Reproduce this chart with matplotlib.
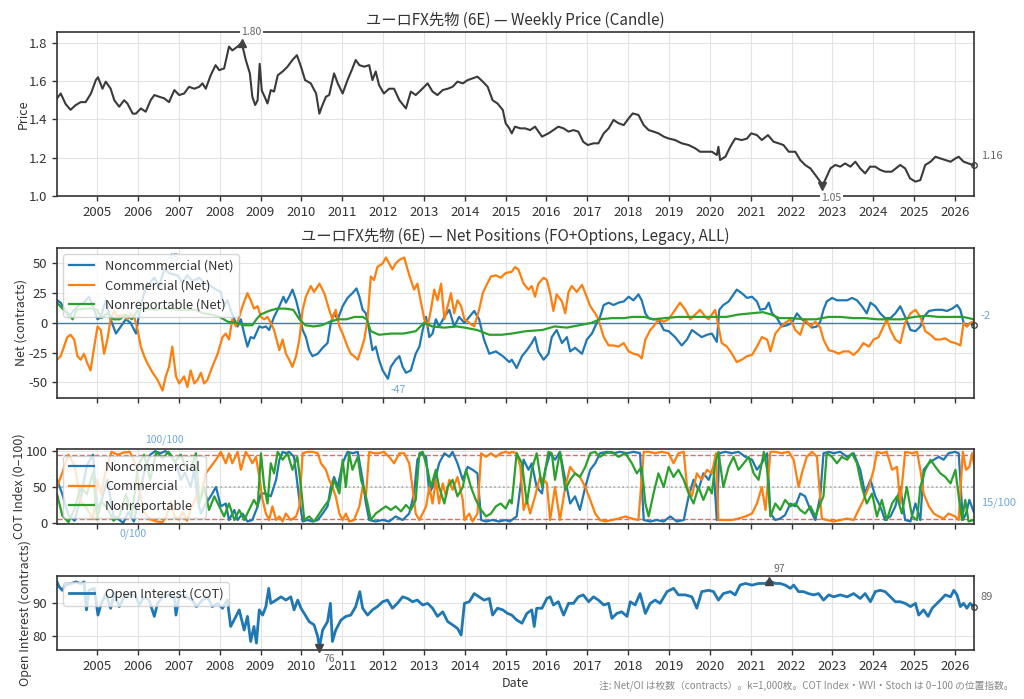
import numpy as np
import pandas as pd
import matplotlib
matplotlib.use("Agg")
import matplotlib.pyplot as plt
import matplotlib.dates as mdates

plt.rcParams['font.family'] = ['Noto Sans CJK JP', 'DejaVu Sans']
plt.rcParams['axes.unicode_minus'] = False

# ---------------- data (decimal year, value) ----------------
price = [(2004.02,1.51),(2004.11,1.535),(2004.23,1.48),(2004.35,1.45),(2004.48,1.475),(2004.6,1.49),(2004.72,1.49),(2004.85,1.535),(2004.97,1.605),(2005.02,1.62),(2005.13,1.56),(2005.21,1.597),(2005.33,1.56),(2005.42,1.50),(2005.54,1.466),(2005.66,1.50),(2005.74,1.483),(2005.87,1.43),(2005.95,1.43),(2006.07,1.457),(2006.19,1.44),(2006.31,1.50),(2006.4,1.527),(2006.52,1.518),(2006.64,1.51),(2006.76,1.49),(2006.89,1.553),(2007.01,1.527),(2007.13,1.535),(2007.25,1.57),(2007.38,1.56),(2007.5,1.57),(2007.58,1.588),(2007.66,1.56),(2007.78,1.63),(2007.9,1.683),(2007.99,1.657),(2008.11,1.666),(2008.23,1.78),(2008.31,1.76),(2008.44,1.78),(2008.54,1.80),(2008.64,1.71),(2008.74,1.64),(2008.8,1.518),(2008.87,1.475),(2008.93,1.50),(2008.98,1.69),(2009.03,1.55),(2009.1,1.518),(2009.17,1.483),(2009.25,1.553),(2009.33,1.545),(2009.42,1.63),(2009.54,1.65),(2009.66,1.675),(2009.78,1.71),(2009.89,1.735),(2009.99,1.675),(2010.09,1.605),(2010.23,1.588),(2010.36,1.535),(2010.44,1.43),(2010.5,1.466),(2010.6,1.518),(2010.68,1.527),(2010.8,1.64),(2010.89,1.588),(2011.01,1.535),(2011.13,1.605),(2011.25,1.666),(2011.33,1.71),(2011.42,1.683),(2011.54,1.675),(2011.66,1.683),(2011.74,1.605),(2011.82,1.65),(2011.9,1.58),(2012.02,1.535),(2012.15,1.56),(2012.27,1.56),(2012.4,1.50),(2012.56,1.457),(2012.68,1.545),(2012.8,1.527),(2012.93,1.553),(2013.09,1.588),(2013.21,1.545),(2013.33,1.527),(2013.46,1.553),(2013.58,1.56),(2013.7,1.57),(2013.82,1.597),(2013.95,1.588),(2014.07,1.605),(2014.19,1.614),(2014.31,1.623),(2014.44,1.597),(2014.56,1.57),(2014.68,1.50),(2014.8,1.483),(2014.93,1.449),(2015.0,1.38),(2015.09,1.353),(2015.15,1.327),(2015.23,1.362),(2015.36,1.353),(2015.48,1.353),(2015.6,1.344),(2015.72,1.362),(2015.89,1.31),(2016.05,1.327),(2016.17,1.344),(2016.29,1.362),(2016.42,1.353),(2016.54,1.336),(2016.66,1.344),(2016.78,1.336),(2016.9,1.283),(2017.01,1.266),(2017.15,1.275),(2017.27,1.275),(2017.4,1.327),(2017.52,1.353),(2017.64,1.397),(2017.76,1.38),(2017.89,1.37),(2018.01,1.405),(2018.11,1.431),(2018.25,1.423),(2018.38,1.37),(2018.5,1.344),(2018.62,1.336),(2018.74,1.327),(2018.87,1.31),(2018.99,1.30),(2019.15,1.292),(2019.31,1.275),(2019.48,1.266),(2019.64,1.249),(2019.76,1.231),(2019.89,1.231),(2020.05,1.231),(2020.17,1.214),(2020.21,1.257),(2020.25,1.188),(2020.38,1.205),(2020.5,1.257),(2020.62,1.30),(2020.78,1.292),(2020.91,1.30),(2021.01,1.327),(2021.15,1.318),(2021.27,1.292),(2021.42,1.318),(2021.56,1.283),(2021.68,1.275),(2021.8,1.266),(2021.93,1.231),(2022.09,1.231),(2022.21,1.188),(2022.33,1.162),(2022.46,1.144),(2022.58,1.11),(2022.7,1.075),(2022.74,1.05),(2022.82,1.083),(2022.95,1.144),(2023.07,1.162),(2023.19,1.153),(2023.31,1.17),(2023.44,1.153),(2023.56,1.179),(2023.68,1.144),(2023.8,1.118),(2023.92,1.153),(2024.05,1.153),(2024.17,1.136),(2024.29,1.127),(2024.45,1.127),(2024.66,1.162),(2024.78,1.144),(2024.9,1.092),(2025.03,1.075),(2025.15,1.083),(2025.27,1.162),(2025.4,1.179),(2025.52,1.205),(2025.64,1.196),(2025.76,1.188),(2025.89,1.179),(2026.01,1.196),(2026.09,1.205),(2026.21,1.179),(2026.33,1.17),(2026.46,1.16)]

net_noncomm = [(2004.02,19),(2004.11,17),(2004.19,12),(2004.31,5),(2004.44,11),(2004.56,15),(2004.68,17),(2004.8,22),(2004.93,11),(2005.01,3),(2005.09,5),(2005.21,19),(2005.33,3),(2005.46,-9),(2005.58,-3),(2005.7,3),(2005.82,0),(2005.95,-9),(2006.03,8),(2006.15,25),(2006.27,33),(2006.4,38),(2006.52,31),(2006.64,45),(2006.76,42),(2006.84,41),(2006.97,40),(2007.09,34),(2007.21,40),(2007.33,35),(2007.5,38),(2007.62,34),(2007.74,32),(2007.91,28),(2008.03,26),(2008.11,14),(2008.19,19),(2008.27,11),(2008.36,3),(2008.44,-3),(2008.52,3),(2008.6,-9),(2008.68,-20),(2008.76,-12),(2008.84,-13),(2008.97,-3),(2009.05,-4),(2009.13,-3),(2009.21,-6),(2009.33,5),(2009.46,14),(2009.56,22),(2009.62,17),(2009.7,22),(2009.78,28),(2009.87,19),(2009.95,8),(2010.03,-6),(2010.11,-12),(2010.19,-23),(2010.27,-28),(2010.4,-26),(2010.52,-21),(2010.64,-17),(2010.72,0),(2010.8,8),(2010.89,3),(2011.01,14),(2011.13,21),(2011.25,25),(2011.35,29),(2011.42,22),(2011.5,11),(2011.58,8),(2011.66,-6),(2011.74,-23),(2011.82,-20),(2011.9,-31),(2011.99,-40),(2012.12,-47),(2012.19,-37),(2012.31,-31),(2012.4,-28),(2012.48,-37),(2012.56,-42),(2012.68,-40),(2012.8,-26),(2012.89,-20),(2012.97,-6),(2013.05,5),(2013.13,-12),(2013.21,-9),(2013.29,3),(2013.37,-3),(2013.5,5),(2013.62,11),(2013.74,-3),(2013.86,5),(2013.99,0),(2014.11,5),(2014.23,10),(2014.35,3),(2014.47,-14),(2014.6,-26),(2014.76,-24),(2014.93,-28),(2015.09,-33),(2015.15,-31),(2015.27,-38),(2015.4,-28),(2015.52,-23),(2015.64,-17),(2015.72,-12),(2015.8,-24),(2015.93,-31),(2016.05,-26),(2016.13,-12),(2016.25,-6),(2016.38,-17),(2016.5,-12),(2016.58,-24),(2016.7,-21),(2016.87,-26),(2016.99,-14),(2017.11,-9),(2017.23,0),(2017.31,5),(2017.4,15),(2017.52,17),(2017.64,15),(2017.76,17),(2017.89,18),(2018.01,22),(2018.13,19),(2018.25,24),(2018.33,19),(2018.42,8),(2018.5,4),(2018.62,3),(2018.74,3),(2018.87,-6),(2018.99,-7),(2019.15,-12),(2019.31,-19),(2019.44,-14),(2019.56,-6),(2019.68,-9),(2019.8,-12),(2019.93,-10),(2020.05,-9),(2020.17,-16),(2020.23,11),(2020.33,15),(2020.46,18),(2020.58,24),(2020.66,28),(2020.78,25),(2020.91,21),(2021.03,22),(2021.15,18),(2021.23,11),(2021.36,12),(2021.44,17),(2021.52,8),(2021.64,4),(2021.76,-3),(2021.89,-2),(2022.01,0),(2022.13,8),(2022.25,3),(2022.37,0),(2022.5,-4),(2022.62,-3),(2022.7,1),(2022.78,11),(2022.86,18),(2022.99,21),(2023.11,19),(2023.23,19),(2023.36,19),(2023.48,21),(2023.6,19),(2023.72,14),(2023.84,8),(2023.93,17),(2024.05,14),(2024.17,8),(2024.29,4),(2024.42,4),(2024.54,8),(2024.66,14),(2024.78,5),(2024.91,-6),(2025.03,-7),(2025.15,-3),(2025.23,5),(2025.36,10),(2025.52,11),(2025.68,11),(2025.8,10),(2025.93,12),(2026.05,15),(2026.13,11),(2026.21,0),(2026.29,-3),(2026.37,0),(2026.46,-2)]

net_comm = [(2004.02,-31),(2004.11,-28),(2004.19,-20),(2004.27,-12),(2004.35,-10),(2004.44,-14),(2004.52,-28),(2004.6,-31),(2004.68,-26),(2004.76,-34),(2004.84,-40),(2004.93,-20),(2005.01,-3),(2005.09,-6),(2005.17,-26),(2005.25,-14),(2005.33,3),(2005.42,10),(2005.5,5),(2005.62,7),(2005.74,3),(2005.82,8),(2005.91,5),(2005.99,-6),(2006.07,-20),(2006.15,-28),(2006.23,-34),(2006.36,-42),(2006.48,-48),(2006.6,-57),(2006.68,-45),(2006.76,-37),(2006.84,-20),(2006.93,-45),(2007.01,-51),(2007.13,-45),(2007.21,-54),(2007.29,-40),(2007.38,-51),(2007.46,-48),(2007.54,-42),(2007.62,-51),(2007.7,-48),(2007.82,-37),(2007.95,-26),(2008.07,-12),(2008.15,-9),(2008.23,-14),(2008.31,3),(2008.4,-3),(2008.48,5),(2008.56,14),(2008.68,25),(2008.76,19),(2008.84,12),(2008.93,14),(2009.01,5),(2009.09,3),(2009.17,5),(2009.25,0),(2009.33,-6),(2009.46,-23),(2009.54,-14),(2009.62,-26),(2009.7,-31),(2009.78,-37),(2009.87,-28),(2009.95,-14),(2010.03,11),(2010.11,22),(2010.23,31),(2010.31,26),(2010.44,33),(2010.56,25),(2010.68,11),(2010.76,3),(2010.84,11),(2010.93,-3),(2011.01,-9),(2011.13,-20),(2011.21,-26),(2011.29,-28),(2011.38,-31),(2011.46,-23),(2011.54,-14),(2011.62,3),(2011.7,39),(2011.78,36),(2011.86,47),(2011.99,50),(2012.07,55),(2012.15,50),(2012.23,45),(2012.31,50),(2012.4,53),(2012.52,55),(2012.6,45),(2012.68,36),(2012.76,28),(2012.84,33),(2012.93,17),(2013.01,3),(2013.09,-3),(2013.17,11),(2013.25,28),(2013.33,19),(2013.42,33),(2013.5,3),(2013.58,14),(2013.66,25),(2013.74,8),(2013.82,19),(2013.91,14),(2013.99,3),(2014.11,0),(2014.23,-3),(2014.35,11),(2014.44,25),(2014.52,31),(2014.64,39),(2014.76,40),(2014.88,38),(2015.0,42),(2015.15,43),(2015.23,47),(2015.31,45),(2015.44,33),(2015.56,28),(2015.64,31),(2015.72,22),(2015.8,33),(2015.93,38),(2016.01,36),(2016.09,25),(2016.17,10),(2016.25,24),(2016.38,18),(2016.46,8),(2016.54,26),(2016.62,31),(2016.74,26),(2016.87,32),(2016.95,25),(2017.07,14),(2017.19,8),(2017.27,3),(2017.4,-12),(2017.52,-19),(2017.64,-19),(2017.76,-20),(2017.89,-17),(2018.01,-24),(2018.13,-26),(2018.25,-27),(2018.33,-30),(2018.42,-14),(2018.54,-6),(2018.62,-3),(2018.74,3),(2018.87,1),(2018.99,3),(2019.15,11),(2019.27,17),(2019.4,11),(2019.52,3),(2019.64,7),(2019.76,11),(2019.89,5),(2019.97,3),(2020.13,11),(2020.21,-3),(2020.29,-17),(2020.42,-20),(2020.54,-26),(2020.66,-33),(2020.78,-31),(2020.91,-28),(2021.03,-27),(2021.15,-20),(2021.27,-12),(2021.4,-14),(2021.48,-24),(2021.6,-9),(2021.72,-4),(2021.84,0),(2021.97,3),(2022.09,-6),(2022.21,-10),(2022.33,3),(2022.46,-3),(2022.58,1),(2022.7,-4),(2022.78,-14),(2022.91,-23),(2023.03,-24),(2023.15,-26),(2023.27,-24),(2023.4,-24),(2023.52,-27),(2023.64,-23),(2023.76,-17),(2023.89,-20),(2024.01,-14),(2024.13,-12),(2024.25,-3),(2024.33,3),(2024.42,-6),(2024.54,-14),(2024.66,-17),(2024.78,0),(2024.91,8),(2025.03,11),(2025.15,5),(2025.27,-7),(2025.4,-10),(2025.52,-14),(2025.64,-14),(2025.76,-13),(2025.89,-16),(2026.01,-17),(2026.13,-19),(2026.21,0),(2026.29,-3),(2026.37,0),(2026.46,1)]

net_nonrep = [(2004.02,17),(2004.15,12),(2004.3,8),(2004.4,3),(2004.5,11),(2004.7,12),(2004.9,12),(2005.0,11),(2005.1,4),(2005.25,8),(2005.4,3),(2005.55,3),(2005.7,7),(2005.85,3),(2006.0,11),(2006.2,12),(2006.4,11),(2006.6,12),(2006.8,12),(2007.0,11),(2007.2,11),(2007.4,11),(2007.6,8),(2007.8,7),(2008.0,5),(2008.2,1),(2008.4,0),(2008.6,-2),(2008.8,-2),(2008.9,3),(2009.0,7),(2009.2,10),(2009.4,12),(2009.6,12),(2009.8,11),(2009.95,3),(2010.1,-2),(2010.3,-3),(2010.5,-2),(2010.7,1),(2010.9,3),(2011.1,3),(2011.3,5),(2011.5,5),(2011.6,3),(2011.7,-7),(2011.9,-10),(2012.2,-9),(2012.5,-9),(2012.8,-7),(2013.0,0),(2013.2,-3),(2013.5,-4),(2013.8,-3),(2014.0,-4),(2014.3,-6),(2014.6,-10),(2014.9,-10),(2015.15,-9),(2015.5,-7),(2015.9,-6),(2016.2,-3),(2016.5,-4),(2016.8,-2),(2017.1,0),(2017.3,3),(2017.6,4),(2017.9,4),(2018.1,5),(2018.4,5),(2018.6,3),(2018.9,4),(2019.2,5),(2019.5,5),(2019.8,5),(2020.1,5),(2020.4,5),(2020.7,7),(2021.0,8),(2021.3,9),(2021.5,7),(2021.7,4),(2022.0,4),(2022.3,3),(2022.6,3),(2022.9,5),(2023.2,5),(2023.5,4),(2023.8,4),(2024.1,3),(2024.4,3),(2024.7,3),(2025.0,5),(2025.3,6),(2025.6,5),(2025.9,5),(2026.2,5),(2026.46,3)]

cot_noncomm = [(2004.02,60),(2004.15,40),(2004.3,10),(2004.45,3),(2004.6,35),(2004.75,80),(2004.9,95),(2005.0,20),(2005.1,30),(2005.25,60),(2005.4,10),(2005.52,5),(2005.64,0),(2005.76,15),(2005.9,2),(2006.0,30),(2006.15,70),(2006.3,95),(2006.42,100),(2006.55,97),(2006.67,100),(2006.8,95),(2006.95,80),(2007.05,60),(2007.15,70),(2007.29,50),(2007.38,74),(2007.46,32),(2007.54,13),(2007.66,27),(2007.78,37),(2007.91,50),(2008.03,23),(2008.15,27),(2008.23,4),(2008.36,18),(2008.44,4),(2008.56,13),(2008.68,2),(2008.8,4),(2008.93,23),(2009.01,41),(2009.13,41),(2009.25,37),(2009.38,60),(2009.46,88),(2009.54,99),(2009.62,97),(2009.7,99),(2009.82,92),(2009.95,32),(2010.03,2),(2010.15,4),(2010.27,2),(2010.4,4),(2010.52,13),(2010.64,23),(2010.72,50),(2010.8,64),(2010.89,50),(2011.01,83),(2011.13,99),(2011.25,97),(2011.38,99),(2011.5,60),(2011.58,27),(2011.66,4),(2011.82,2),(2011.99,4),(2012.15,2),(2012.31,9),(2012.48,4),(2012.64,13),(2012.76,41),(2012.84,88),(2012.93,97),(2013.05,92),(2013.13,41),(2013.25,55),(2013.37,83),(2013.5,97),(2013.62,92),(2013.7,99),(2013.82,83),(2013.95,60),(2014.07,78),(2014.19,74),(2014.31,69),(2014.4,4),(2014.52,2),(2014.68,4),(2014.84,2),(2015.0,4),(2015.1,2),(2015.27,9),(2015.36,50),(2015.44,88),(2015.56,74),(2015.64,83),(2015.76,50),(2015.89,41),(2015.97,74),(2016.09,97),(2016.21,88),(2016.33,99),(2016.46,60),(2016.58,27),(2016.7,37),(2016.82,18),(2016.95,50),(2017.07,74),(2017.19,83),(2017.31,97),(2017.48,99),(2017.64,97),(2017.8,99),(2017.97,97),(2018.13,99),(2018.29,97),(2018.38,4),(2018.54,2),(2018.7,4),(2018.87,2),(2019.03,9),(2019.19,2),(2019.36,4),(2019.48,37),(2019.6,60),(2019.72,46),(2019.84,69),(2019.97,60),(2020.09,78),(2020.17,4),(2020.23,97),(2020.38,99),(2020.54,97),(2020.7,99),(2020.87,92),(2021.03,88),(2021.15,74),(2021.27,83),(2021.4,97),(2021.48,13),(2021.6,4),(2021.72,6),(2021.84,11),(2021.97,27),(2022.09,23),(2022.21,41),(2022.33,37),(2022.46,18),(2022.58,4),(2022.7,37),(2022.78,97),(2022.91,99),(2023.03,97),(2023.19,99),(2023.36,92),(2023.52,97),(2023.68,74),(2023.8,41),(2023.93,60),(2024.05,37),(2024.17,23),(2024.29,4),(2024.42,9),(2024.54,23),(2024.66,50),(2024.78,4),(2024.91,2),(2025.03,27),(2025.15,4),(2025.23,74),(2025.36,83),(2025.48,88),(2025.6,92),(2025.72,88),(2025.84,97),(2026.0,99),(2026.09,97),(2026.19,4),(2026.27,13),(2026.35,32),(2026.46,15)]

cot_comm = [(2004.02,50),(2004.15,70),(2004.3,95),(2004.45,80),(2004.6,30),(2004.75,20),(2004.9,5),(2005.0,60),(2005.1,40),(2005.2,70),(2005.35,99),(2005.5,95),(2005.65,98),(2005.8,99),(2005.95,80),(2006.05,40),(2006.15,15),(2006.3,5),(2006.45,2),(2006.6,1),(2006.7,10),(2006.8,30),(2006.9,8),(2007.0,5),(2007.1,15),(2007.2,3),(2007.29,18),(2007.42,37),(2007.54,37),(2007.66,69),(2007.78,78),(2007.91,88),(2008.03,99),(2008.15,83),(2008.23,97),(2008.31,83),(2008.44,99),(2008.52,74),(2008.64,99),(2008.72,92),(2008.8,83),(2008.89,92),(2008.97,64),(2009.05,32),(2009.13,13),(2009.21,4),(2009.29,23),(2009.38,4),(2009.46,9),(2009.54,2),(2009.62,13),(2009.74,4),(2009.87,9),(2009.95,23),(2010.03,97),(2010.15,99),(2010.27,99),(2010.4,97),(2010.48,83),(2010.6,74),(2010.68,60),(2010.76,50),(2010.84,37),(2010.93,13),(2011.01,4),(2011.09,13),(2011.17,2),(2011.29,4),(2011.42,23),(2011.5,50),(2011.58,37),(2011.66,99),(2011.78,97),(2011.9,97),(2012.02,99),(2012.15,92),(2012.27,83),(2012.4,97),(2012.52,97),(2012.64,83),(2012.72,50),(2012.8,13),(2012.89,4),(2012.97,13),(2013.05,23),(2013.13,50),(2013.21,27),(2013.29,60),(2013.37,27),(2013.46,55),(2013.54,37),(2013.62,60),(2013.7,46),(2013.82,64),(2013.95,32),(2013.99,4),(2014.11,13),(2014.19,2),(2014.31,13),(2014.4,97),(2014.52,92),(2014.64,97),(2014.76,92),(2014.88,97),(2015.0,99),(2015.1,97),(2015.15,99),(2015.27,97),(2015.36,78),(2015.44,18),(2015.52,32),(2015.6,13),(2015.72,37),(2015.84,64),(2015.93,60),(2016.01,55),(2016.09,4),(2016.21,50),(2016.33,4),(2016.46,50),(2016.58,78),(2016.7,69),(2016.82,64),(2016.95,50),(2017.07,32),(2017.19,13),(2017.31,4),(2017.44,2),(2017.6,4),(2017.76,6),(2017.93,9),(2018.09,6),(2018.25,4),(2018.38,99),(2018.5,99),(2018.66,97),(2018.82,99),(2018.99,97),(2019.11,83),(2019.23,97),(2019.36,99),(2019.44,50),(2019.56,37),(2019.68,69),(2019.8,60),(2019.93,74),(2020.05,69),(2020.15,97),(2020.21,4),(2020.38,4),(2020.54,4),(2020.7,6),(2020.87,9),(2021.03,13),(2021.15,27),(2021.27,50),(2021.36,18),(2021.48,99),(2021.6,99),(2021.76,97),(2021.93,99),(2022.05,88),(2022.17,50),(2022.25,69),(2022.37,92),(2022.5,99),(2022.62,92),(2022.74,6),(2022.86,4),(2023.03,2),(2023.19,4),(2023.36,6),(2023.52,4),(2023.64,18),(2023.76,32),(2023.89,50),(2024.01,74),(2024.09,99),(2024.21,97),(2024.33,99),(2024.46,74),(2024.58,78),(2024.66,27),(2024.78,99),(2024.95,97),(2025.07,99),(2025.15,74),(2025.23,41),(2025.36,23),(2025.48,13),(2025.6,9),(2025.72,6),(2025.84,13),(2026.0,9),(2026.09,4),(2026.19,99),(2026.27,74),(2026.35,78),(2026.42,97),(2026.46,83)]

cot_nonrep = [(2004.02,40),(2004.15,10),(2004.3,1),(2004.45,20),(2004.6,50),(2004.75,40),(2004.9,70),(2005.0,5),(2005.1,30),(2005.25,20),(2005.4,3),(2005.55,10),(2005.7,40),(2005.85,10),(2006.0,80),(2006.15,95),(2006.3,60),(2006.45,99),(2006.6,90),(2006.75,99),(2006.9,85),(2007.05,95),(2007.15,80),(2007.29,74),(2007.42,97),(2007.5,27),(2007.62,50),(2007.74,18),(2007.87,37),(2007.99,23),(2008.11,9),(2008.23,27),(2008.36,4),(2008.48,18),(2008.6,4),(2008.72,18),(2008.84,32),(2008.93,23),(2009.01,97),(2009.09,50),(2009.17,27),(2009.25,83),(2009.33,69),(2009.42,99),(2009.54,88),(2009.66,97),(2009.78,74),(2009.9,92),(2009.99,50),(2010.07,4),(2010.19,9),(2010.31,2),(2010.44,13),(2010.56,23),(2010.68,32),(2010.8,60),(2010.93,41),(2011.01,88),(2011.09,50),(2011.17,97),(2011.25,74),(2011.38,92),(2011.46,60),(2011.54,46),(2011.62,27),(2011.7,4),(2011.82,13),(2011.94,18),(2012.07,23),(2012.19,18),(2012.31,23),(2012.44,16),(2012.56,25),(2012.68,18),(2012.8,32),(2012.89,97),(2012.97,99),(2013.09,74),(2013.17,50),(2013.29,74),(2013.37,50),(2013.5,27),(2013.58,50),(2013.7,60),(2013.82,37),(2013.95,50),(2014.03,74),(2014.15,50),(2014.27,32),(2014.4,18),(2014.52,9),(2014.64,13),(2014.76,23),(2014.88,27),(2015.0,20),(2015.1,32),(2015.15,27),(2015.27,97),(2015.4,83),(2015.52,27),(2015.64,74),(2015.76,97),(2015.89,50),(2015.97,74),(2016.05,99),(2016.13,97),(2016.21,60),(2016.33,99),(2016.46,46),(2016.58,60),(2016.7,69),(2016.82,64),(2016.95,78),(2017.07,97),(2017.19,99),(2017.31,92),(2017.44,97),(2017.6,99),(2017.76,92),(2017.93,97),(2018.09,83),(2018.21,69),(2018.33,78),(2018.42,27),(2018.5,9),(2018.62,41),(2018.74,69),(2018.87,50),(2018.99,78),(2019.11,64),(2019.23,74),(2019.36,60),(2019.48,41),(2019.6,27),(2019.72,50),(2019.84,32),(2019.97,50),(2020.05,41),(2020.13,83),(2020.21,99),(2020.33,50),(2020.46,78),(2020.58,92),(2020.7,74),(2020.83,83),(2020.95,92),(2021.07,69),(2021.19,60),(2021.32,99),(2021.4,74),(2021.48,9),(2021.6,27),(2021.72,18),(2021.84,32),(2021.97,23),(2022.09,27),(2022.21,18),(2022.33,13),(2022.46,23),(2022.58,9),(2022.7,27),(2022.78,37),(2022.86,97),(2022.99,92),(2023.11,83),(2023.23,92),(2023.36,88),(2023.48,97),(2023.6,83),(2023.72,50),(2023.84,27),(2023.97,41),(2024.09,9),(2024.21,32),(2024.33,4),(2024.46,27),(2024.58,37),(2024.7,13),(2024.82,50),(2024.95,9),(2025.07,4),(2025.15,50),(2025.27,74),(2025.4,88),(2025.52,78),(2025.64,69),(2025.76,64),(2025.89,55),(2026.01,74),(2026.09,37),(2026.17,4),(2026.25,32),(2026.33,2),(2026.46,4)]

open_interest = [(2004.02,96.6),(2004.07,95.1),(2004.15,94),(2004.23,95.6),(2004.35,96),(2004.48,96.6),(2004.6,96),(2004.68,96.6),(2004.74,88),(2004.8,94),(2004.93,94.6),(2005.02,86.4),(2005.09,89.5),(2005.21,93),(2005.33,88.5),(2005.42,93),(2005.54,89),(2005.66,92),(2005.82,93),(2005.95,92),(2006.03,89.5),(2006.15,92),(2006.27,91),(2006.4,86),(2006.48,90),(2006.6,92),(2006.76,92.6),(2006.89,92),(2006.93,86.4),(2007.01,92.6),(2007.17,92),(2007.33,91),(2007.43,89),(2007.58,91),(2007.7,92),(2007.82,89),(2007.95,90),(2008.07,88.5),(2008.19,91),(2008.27,82.9),(2008.4,86),(2008.48,88),(2008.6,81.8),(2008.68,86),(2008.76,78.3),(2008.84,82.9),(2008.9,77.8),(2008.97,88),(2009.05,86.4),(2009.13,89),(2009.2,94.6),(2009.25,90),(2009.38,91),(2009.5,92),(2009.62,91),(2009.74,92),(2009.82,88),(2009.91,91),(2009.99,88.5),(2010.07,86.9),(2010.19,84.4),(2010.31,83.4),(2010.4,79.8),(2010.44,76.4),(2010.52,81.8),(2010.64,84.4),(2010.71,90),(2010.76,78.3),(2010.84,81.8),(2010.97,84.9),(2011.09,86),(2011.21,86.4),(2011.33,89),(2011.43,93.6),(2011.5,88.5),(2011.62,86.4),(2011.74,88),(2011.86,89),(2011.99,90.5),(2012.11,91),(2012.23,88.5),(2012.35,90),(2012.48,92),(2012.6,91.5),(2012.72,90.5),(2012.84,91),(2012.97,89.5),(2013.09,90),(2013.21,88.5),(2013.33,86),(2013.46,87.4),(2013.58,84.4),(2013.7,83.4),(2013.82,82.3),(2013.91,80.3),(2013.99,90),(2014.11,90.5),(2014.23,93),(2014.35,92),(2014.47,91),(2014.6,91.5),(2014.68,86.4),(2014.8,88.5),(2014.93,88),(2015.05,86.9),(2015.15,86.4),(2015.27,84.9),(2015.4,83.9),(2015.52,86.9),(2015.64,88),(2015.7,82.9),(2015.76,88.5),(2015.89,88.5),(2016.01,91.5),(2016.09,92),(2016.17,89.5),(2016.29,90.5),(2016.42,86.4),(2016.54,90),(2016.66,90),(2016.78,92),(2016.9,92.6),(2017.03,90.5),(2017.15,92),(2017.27,91),(2017.4,89.5),(2017.52,90),(2017.6,85.4),(2017.72,86.9),(2017.84,87.4),(2017.97,86),(2018.05,90.5),(2018.17,89.5),(2018.29,93),(2018.42,86.9),(2018.54,90),(2018.66,91),(2018.78,90),(2018.95,93.6),(2019.11,94.6),(2019.23,92.6),(2019.4,92.6),(2019.56,92),(2019.68,88.5),(2019.8,93.6),(2019.97,94),(2020.09,93.6),(2020.21,91),(2020.33,93),(2020.5,93.6),(2020.62,92.6),(2020.74,95.6),(2020.87,96.1),(2021.03,95.6),(2021.19,96.1),(2021.36,96.1),(2021.45,97.0),(2021.6,96.1),(2021.72,96.1),(2021.84,95.6),(2021.97,94.6),(2022.05,95.6),(2022.17,93.6),(2022.29,93.6),(2022.41,93),(2022.54,92.6),(2022.66,93),(2022.78,91),(2022.91,92.6),(2023.03,92),(2023.19,92.6),(2023.36,92),(2023.52,93),(2023.68,91.5),(2023.8,93),(2023.93,90.5),(2024.05,93.6),(2024.17,94),(2024.29,93.6),(2024.42,92),(2024.54,90.5),(2024.66,90.5),(2024.78,90),(2024.91,89),(2025.03,90),(2025.11,86.4),(2025.23,88),(2025.34,86),(2025.44,88.5),(2025.56,90),(2025.68,91.5),(2025.76,92.6),(2025.89,92),(2025.97,94),(2026.05,92.6),(2026.13,89),(2026.21,90),(2026.29,88.5),(2026.37,90),(2026.46,89)]

x_range = (2004.02, 2026.46)
title_price = "ユーロFX先物 (6E) — Weekly Price (Candle)"
title_net = "ユーロFX先物 (6E) — Net Positions (FO+Options, Legacy, ALL)"
footnote = "注: Net/OI は枚数（contracts）。k=1,000枚。COT Index・WVI・Stoch は 0–100 の位置指数。"

# ---------------- helpers ----------------
def dec2dt(vals):
    out = []
    for v in vals:
        y = int(np.floor(v))
        out.append(pd.Timestamp(year=y, month=1, day=1) + pd.Timedelta(days=(v - y) * 365.25))
    return pd.DatetimeIndex(out)

def split(pairs):
    t, v = zip(*pairs)
    return dec2dt(t), np.array(v, dtype=float)

C_BLUE, C_ORANGE, C_GREEN = '#1f77b4', '#ff7f0e', '#2ca02c'
LIGHT_BLUE = '#6fa8dc'
TXT = '#333333'
GRAYTXT = '#666666'

plt.rcParams.update({
    'axes.edgecolor': '#333333', 'axes.linewidth': 1.2,
    'xtick.color': TXT, 'ytick.color': TXT,
    'xtick.labelsize': 9.5, 'ytick.labelsize': 9.5,
    'axes.labelcolor': TXT, 'axes.labelsize': 9,
    'text.color': TXT,
})

fig = plt.figure(figsize=(10.24, 6.99), dpi=100)
L, W = 0.0557, 0.8953
ax1 = fig.add_axes([L, 0.7196, W, 0.2346])
ax2 = fig.add_axes([L, 0.4310, W, 0.2142], sharex=ax1)
ax3 = fig.add_axes([L, 0.2504, W, 0.1068], sharex=ax1)
ax4 = fig.add_axes([L, 0.0697, W, 0.1063], sharex=ax1)

xl = dec2dt(x_range)
for ax in (ax1, ax2, ax3, ax4):
    ax.grid(True, color='#e3e3e3', lw=0.8)
    ax.set_axisbelow(True)
    ax.tick_params(length=3.5, width=1)
    ax.xaxis.set_major_locator(mdates.YearLocator())
    ax.xaxis.set_major_formatter(mdates.DateFormatter('%Y'))
ax1.set_xlim(xl[0], xl[1])

def mark_ext(ax, x, y, text, up, color=GRAYTXT, marker=True):
    if marker:
        ax.plot([x], [y], marker='^' if up else 'v', color='#444444', ms=5.5, zorder=4, clip_on=False)
    ax.annotate(text, xy=(x, y), xytext=(7, 8 if up else -8), textcoords='offset points',
                ha='center', va='center', fontsize=7.5, color=color, zorder=3,
                annotation_clip=False,
                bbox=dict(boxstyle='square,pad=0.1', fc='white', ec='none') if marker else None)

def last_label(ax, x, y, text, color):
    ax.annotate(text, xy=(x, y), xytext=(5, 7), textcoords='offset points',
                ha='left', va='center', fontsize=8, color=color, annotation_clip=False)

# ---------------- panel 1: price ----------------
pt, pv = split(price)
ax1.plot(pt, pv, color='#3a3a3a', lw=1.5)
ax1.set_ylim(1.0, 1.856)
ax1.set_ylabel('Price')
ax1.yaxis.set_label_coords(-0.030, 0.5)
ax1.set_title(title_price, fontsize=11, color=TXT, pad=5)
i_max, i_min = int(np.argmax(pv)), int(np.argmin(pv))
mark_ext(ax1, pt[i_max], pv[i_max], f"{pv[i_max]:.2f}", True)
mark_ext(ax1, pt[i_min], pv[i_min], f"{pv[i_min]:.2f}", False)
ax1.plot([pt[-1]], [pv[-1]], marker='o', mfc='none', mec='#444444', ms=4, clip_on=False)
last_label(ax1, pt[-1], pv[-1], f"{pv[-1]:.2f}", GRAYTXT)
plt.setp(ax1.get_xticklabels(), visible=True)

# ---------------- panel 2: net positions ----------------
nt, nv = split(net_noncomm)
ct, cv = split(net_comm)
rt, rv = split(net_nonrep)
ax2.axhline(0, color=C_BLUE, lw=1.0, alpha=0.9)
ax2.plot(nt, nv, color=C_BLUE, lw=1.6, label='Noncommercial (Net)')
ax2.plot(ct, cv, color=C_ORANGE, lw=1.6, label='Commercial (Net)')
ax2.plot(rt, rv, color=C_GREEN, lw=1.6, label='Nonreportable (Net)')
ax2.set_ylim(-63, 63)
ax2.set_yticks([-50, -25, 0, 25, 50])
ax2.set_ylabel('Net (contracts)')
ax2.yaxis.set_label_coords(-0.032, 0.5)
ax2.set_title(title_net, fontsize=11, color=TXT, pad=5)
j_max, j_min = int(np.argmax(nv)), int(np.argmin(nv))
mark_ext(ax2, nt[j_max], nv[j_max], f"{nv[j_max]:.0f}", True, color=LIGHT_BLUE, marker=False)
mark_ext(ax2, nt[j_min], nv[j_min], f"{nv[j_min]:.0f}", False, color=LIGHT_BLUE, marker=False)
ax2.plot([nt[-1]], [nv[-1]], marker='o', mfc='none', mec='#444444', ms=4, clip_on=False)
last_label(ax2, nt[-1], nv[-1], f"{nv[-1]:.0f}", LIGHT_BLUE)
leg = ax2.legend(loc='upper left', fontsize=9.3, framealpha=0.8, borderaxespad=0.5)
leg.set_zorder(10)
plt.setp(ax2.get_xticklabels(), visible=False)

# ---------------- panel 3: COT index ----------------
at, av = split(cot_noncomm)
bt, bv = split(cot_comm)
gt, gv = split(cot_nonrep)
ax3.axhline(95, color='#e05050', ls='--', lw=1.0, alpha=0.85)
ax3.axhline(5, color='#e05050', ls='--', lw=1.0, alpha=0.85)
ax3.axhline(50, color='#aaaaaa', ls=':', lw=1.2)
ax3.plot(at, av, color=C_BLUE, lw=1.6, label='Noncommercial')
ax3.plot(bt, bv, color=C_ORANGE, lw=1.6, label='Commercial')
ax3.plot(gt, gv, color=C_GREEN, lw=1.6, label='Nonreportable')
ax3.set_ylim(-1.5, 102.5)
ax3.set_yticks([0, 50, 100])
ax3.set_ylabel('COT Index (0–100)')
ax3.yaxis.set_label_coords(-0.034, 0.5)
k_max, k_min = int(np.argmax(av)), int(np.argmin(av))
mark_ext(ax3, at[k_max], av[k_max], f"{av[k_max]:.0f}/100", True, color=LIGHT_BLUE, marker=False)
mark_ext(ax3, at[k_min], av[k_min], f"{av[k_min]:.0f}/100", False, color=LIGHT_BLUE, marker=False)
last_label(ax3, at[-1], av[-1], f"{av[-1]:.0f}/100", LIGHT_BLUE)
leg = ax3.legend(loc='upper left', fontsize=9.3, framealpha=0.8, borderaxespad=0.5)
leg.set_zorder(10)
plt.setp(ax3.get_xticklabels(), visible=False)

# ---------------- panel 4: open interest ----------------
ot, ov = split(open_interest)
ax4.plot(ot, ov, color=C_BLUE, lw=2.0, label='Open Interest (COT)')
ax4.set_ylim(75.6, 98.4)
ax4.set_yticks([80, 90])
ax4.set_ylabel('Open Interest (contracts)')
ax4.yaxis.set_label_coords(-0.027, 0.5)
ax4.set_xlabel('Date', labelpad=3)
m_max, m_min = int(np.argmax(ov)), int(np.argmin(ov))
mark_ext(ax4, ot[m_max], ov[m_max], f"{ov[m_max]:.0f}", True)
mark_ext(ax4, ot[m_min], ov[m_min], f"{ov[m_min]:.0f}", False)
ax4.plot([ot[-1]], [ov[-1]], marker='o', mfc='none', mec='#444444', ms=4, clip_on=False)
last_label(ax4, ot[-1], ov[-1], f"{ov[-1]:.0f}", GRAYTXT)
leg = ax4.legend(loc='upper left', fontsize=9.3, framealpha=0.8, borderaxespad=0.5)
leg.set_zorder(10)
plt.setp(ax4.get_xticklabels(), visible=True)

fig.text(0.99, 0.012, footnote, ha='right', va='bottom', fontsize=7, color='#888888')

fig.savefig('out.png', dpi=100)
